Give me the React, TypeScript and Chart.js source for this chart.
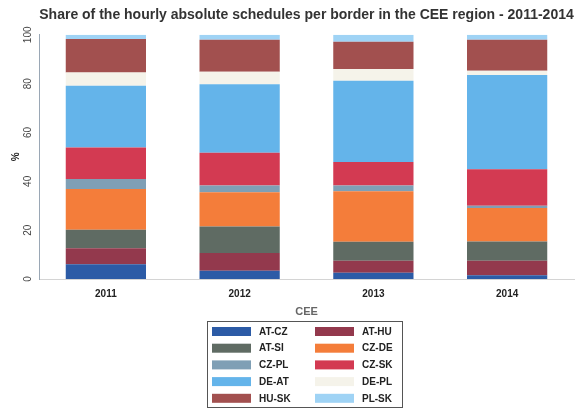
import React, { useEffect, useRef } from "react";
import { Chart, registerables } from "chart.js";

Chart.register(...registerables);

const titleText = "Share of the hourly absolute schedules per border in the CEE region - 2011-2014";
const categories = ["2011", "2012", "2013", "2014"];
const borderLabels = ["AT-CZ", "AT-HU", "AT-SI", "CZ-DE", "CZ-PL", "CZ-SK", "DE-AT", "DE-PL", "HU-SK", "PL-SK"];

const atCz = [6.0, 3.4, 2.6, 1.5];
const atHu = [6.6, 7.2, 4.9, 6.0];
const atSi = [7.6, 10.9, 7.8, 7.9];
const czDe = [16.7, 14.0, 20.6, 13.7];
const czPl = [4.1, 2.8, 2.4, 0.9];
const czSk = [12.8, 13.4, 9.6, 14.9];
const deAt = [25.3, 28.1, 33.3, 38.6];
const dePl = [5.5, 5.1, 4.8, 1.8];
const huSk = [13.7, 13.1, 11.2, 12.7];
const plSk = [1.7, 2.0, 2.8, 2.0];

const seriesValues = [atCz, atHu, atSi, czDe, czPl, czSk, deAt, dePl, huSk, plSk];
const seriesColors = [
  "#2c5ba6",
  "#93394d",
  "#5f6b63",
  "#f47d3a",
  "#7f9fb5",
  "#d33a52",
  "#64b4ea",
  "#f5f3ea",
  "#a2504f",
  "#9fd3f5",
];

const yTickValues = [0, 20, 40, 60, 80, 100];

const FONT = "'Liberation Sans', Arial, sans-serif";

const gridLegend = {
  id: "gridLegend",
  afterDraw(chart: any) {
    const ctx = chart.ctx as CanvasRenderingContext2D;
    ctx.save();
    ctx.strokeStyle = "#555";
    ctx.lineWidth = 1;
    ctx.strokeRect(207.5, 321.5, 195, 86);
    const datasets = chart.data.datasets;
    datasets.forEach((d: any, i: number) => {
      const col = i % 2;
      const row = Math.floor(i / 2);
      const sx = col === 0 ? 212 : 315;
      const cy = 331.5 + row * 16.7;
      ctx.fillStyle = d.backgroundColor;
      ctx.fillRect(sx, cy - 4.5, 39, 9);
      ctx.fillStyle = "#222";
      ctx.font = `bold 10px ${FONT}`;
      ctx.textBaseline = "middle";
      ctx.textAlign = "left";
      ctx.fillText(d.label, sx + 47, cy + 0.5);
    });
    ctx.restore();
  },
};

export default function App() {
  const canvasRef = useRef<HTMLCanvasElement | null>(null);

  useEffect(() => {
    if (!canvasRef.current) return;
    const chart = new Chart(canvasRef.current, {
      type: "bar",
      data: {
        labels: categories,
        datasets: seriesValues.map((vals, i) => ({
          label: borderLabels[i],
          data: vals,
          backgroundColor: seriesColors[i],
          borderWidth: 0,
          barPercentage: 0.6,
          categoryPercentage: 1,
        })),
      },
      options: {
        animation: false,
        responsive: false,
        devicePixelRatio: 1,
        layout: { padding: { top: 0, left: 0, right: 1, bottom: 89 } },
        plugins: {
          legend: { display: false },
          tooltip: { enabled: false },
          title: {
            display: true,
            text: titleText,
            fullSize: false,
            color: "#333",
            font: { family: FONT, size: 14, weight: "bold" },
            padding: { top: 7, bottom: 11 },
          },
        },
        scales: {
          x: {
            stacked: true,
            grid: { display: false, drawTicks: false },
            border: { display: true, color: "#d4d4d4" },
            ticks: { color: "#222", font: { family: FONT, size: 10, weight: "bold" }, padding: 9 },
            title: {
              display: true,
              text: "CEE",
              color: "#666",
              font: { family: FONT, size: 11, weight: "bold" },
              padding: { top: 0, bottom: 0 },
            },
            afterFit: (s: any) => {
              s.height = 40;
            },
          },
          y: {
            stacked: true,
            min: 0,
            max: 100,
            afterBuildTicks: (s: any) => {
              s.ticks = yTickValues.map((v) => ({ value: v }));
            },
            grid: { display: false, drawTicks: false },
            border: { display: true, color: "#9aa7b5" },
            ticks: {
              minRotation: 90,
              maxRotation: 90,
              crossAlign: "center",
              padding: 2,
              color: "#444",
              font: { family: FONT, size: 10 },
            },
            title: {
              display: true,
              text: "%",
              color: "#222",
              font: { family: FONT, size: 10, weight: "bold" },
              padding: { top: 10, bottom: 0 },
            },
            afterFit: (s: any) => {
              s.width = 39;
            },
          },
        },
      },
      plugins: [gridLegend],
    } as any);
    return () => chart.destroy();
  }, []);

  return (
    <div style={{ position: "fixed", left: 0, top: 0, width: 575, height: 408, background: "#fff" }}>
      <canvas ref={canvasRef} width={575} height={408} />
    </div>
  );
}
